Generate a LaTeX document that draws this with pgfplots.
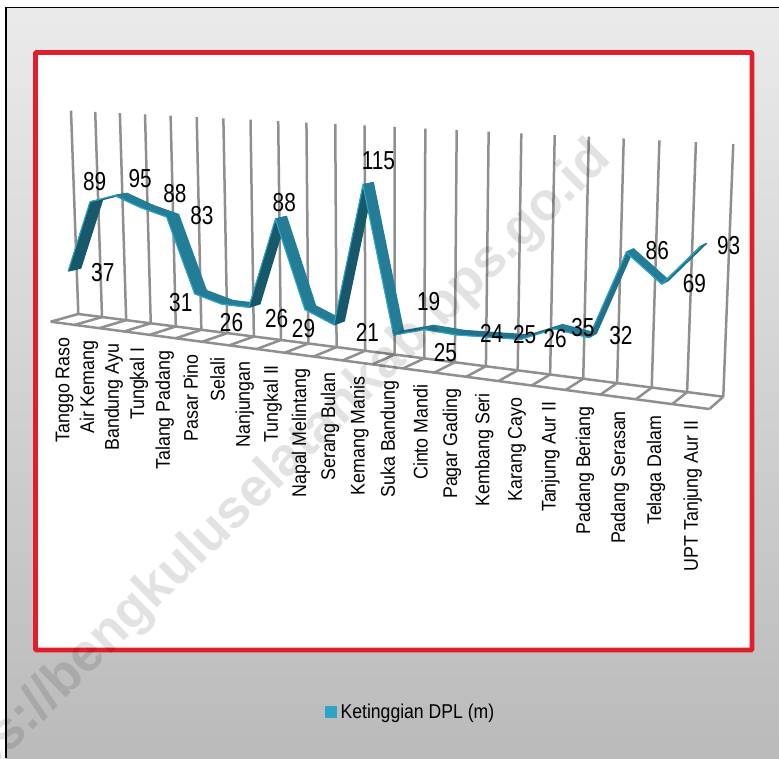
\documentclass[border=0pt]{standalone}
\usepackage{fontspec}
\setmainfont[FakeStretch=0.88]{Liberation Sans}
\newfontfamily\wmfont{Liberation Sans}
\newfontfamily\numfont[FakeStretch=0.8]{Liberation Sans}
\newfontfamily\catfont[FakeStretch=0.9]{Liberation Sans}
\usepackage{pgfplots}
\usepackage{pgfplotstable}
\pgfplotsset{compat=1.18}

\definecolor{griscol}{HTML}{8F8F8F}
\definecolor{ribdark}{HTML}{17596B}
\definecolor{ribmid}{HTML}{237D96}
\definecolor{riblight}{HTML}{2FA4C6}
\definecolor{redframe}{HTML}{E01F2D}

% 3D view of the chart: category i, value v, depth z (0 back wall, 1 front of floor)
\pgfkeys{/pgf/declare function={
  den(\cc,\vv,\zz)=1-0.009024*\cc-0.000153*\vv-0.025*\zz;
  px(\cc,\vv,\zz)=(22.79*\cc-0.0592*\vv+78.3-28.87*\zz)/den(\cc,\vv,\zz);
  py(\cc,\vv,\zz)=(0.1791*\cc-1.3633*\vv+314-0.34*\zz)/den(\cc,\vv,\zz);
}}

% c, value, label offset (dx right, dy up), name
\pgfplotstableread[col sep=comma]{
c,v,dx,dy,name
0,37,28,-3,Tanggo Raso
1,89,-2,19,Air Kemang
2,95,19,16,Bandung Ayu
3,88,28,13,Tungkal I
4,83,29,0,Talang Padang
5,31,-20,-10,Pasar Pino
6,26,4,-20,Selali
7,26,22,-13,Nanjungan
8,88,3,15,Tungkal II
9,29,-7,-21,Napal Melintang
10,21,28,-10,Serang Bulan
11,115,10,23,Kemang Manis
12,19,30,31,Suka Bandung
13,25,16,-25,Cinto Mandi
14,24,31,-1,Pagar Gading
15,25,32,0,Kembang Seri
16,26,30,-1,Karang Cayo
17,35,24,-1,Tanjung Aur II
18,32,28,0,Padang Beriang
19,86,27,0,Padang Serasan
20,69,29,-1,Telaga Dalam
21,93,25,-1,UPT Tanjung Aur II
}\dat

\pgfplotstableread{
v dummy
0 0
151 0
}\walltab
\pgfplotstableread{
i dummy
0 0
22 0
}\floorlong
\pgfplotstableread{
z dummy
0 0
1 0
}\floorcross

\newcommand\ribbonseg[1]{%
  \pgfplotstablegetelem{#1}{v}\of\dat\let\va\pgfplotsretval
  \pgfmathtruncatemacro\nxt{#1+1}%
  \pgfplotstablegetelem{\nxt}{v}\of\dat\let\vb\pgfplotsretval
  \pgfmathsetmacro\ca{#1+0.5}%
  \pgfmathsetmacro\cb{#1+1.5}%
  \pgfmathsetmacro\xa{px(\ca,\va,0.28)}\pgfmathsetmacro\ya{py(\ca,\va,0.28)}%
  \pgfmathsetmacro\xb{px(\cb,\vb,0.28)}\pgfmathsetmacro\yb{py(\cb,\vb,0.28)}%
  \pgfmathsetmacro\xc{px(\cb,\vb,0.72)}\pgfmathsetmacro\yc{py(\cb,\vb,0.72)}%
  \pgfmathsetmacro\xd{px(\ca,\va,0.72)}\pgfmathsetmacro\yd{py(\ca,\va,0.72)}%
  \def\segcol{ribmid}%
  \ifdim\vb pt>\va pt
    \ifnum#1<12 \def\segcol{ribdark}\else\def\segcol{ribmid!70!ribdark}\fi
  \fi
  \edef\tmp{\noexpand\addplot[forget plot,fill=\segcol,draw=\segcol,line width=1.2pt,line join=round]
    coordinates {(\xa,\ya) (\xb,\yb) (\xc,\yc) (\xd,\yd)} -- cycle;}%
  \tmp
}

\begin{document}
\begin{tikzpicture}[x=1pt,y=1pt]
\useasboundingbox (0,0) rectangle (779,758);
\fill[white] (0,0) rectangle (779,758);
\shade[top color=black!8,bottom color=black!27] (6,0) rectangle (779,750);
\draw[black,line width=1.5pt] (6,0) -- (6,750.5) -- (779,750.5);
\draw[redframe,fill=white,line width=4.7pt,rounded corners=1pt] (35.5,108) rectangle (752,705.5);

\begin{axis}[
  at={(0,0)}, anchor=south west,
  scale only axis, width=779pt, height=758pt,
  xmin=0, xmax=779, ymin=0, ymax=758, y dir=reverse,
  hide axis, clip=false,
  legend style={at={(axis cs:325,712)},anchor=west,draw=none,fill=none,
    font=\fontsize{20}{22}\selectfont,inner sep=0pt,
    /tikz/every even column/.append style={column sep=4pt}},
  legend cell align=left,
]
  % floor and wall
  \pgfplotsinvokeforeach{0,...,22}{
    \addplot[forget plot,griscol,line width=2.5pt]
      table[x expr={px(#1,\thisrow{v},0)},y expr={py(#1,\thisrow{v},0)}] {\walltab};
    \addplot[forget plot,griscol,line width=2.5pt]
      table[x expr={px(#1,0,\thisrow{z})},y expr={py(#1,0,\thisrow{z})}] {\floorcross};
  }
  \addplot[forget plot,griscol,line width=2.5pt]
    table[x expr={px(\thisrow{i},0,0)},y expr={py(\thisrow{i},0,0)}] {\floorlong};
  \addplot[forget plot,griscol,line width=2.5pt]
    table[x expr={px(\thisrow{i},0,1)},y expr={py(\thisrow{i},0,1)}] {\floorlong};

  % the series as a ribbon
  \pgfplotsinvokeforeach{0,...,20}{\ribbonseg{#1}}
  \addplot[forget plot,riblight,line width=1.1pt]
    table[x expr={px(\thisrow{c}+0.5,\thisrow{v},0.74)},y expr={py(\thisrow{c}+0.5,\thisrow{v},0.74)}] {\dat};

  % value labels
  \addplot[forget plot,draw=none,mark=none,point meta=explicit symbolic,
    visualization depends on={\thisrow{dx}\as\ldx},
    visualization depends on={\thisrow{dy}\as\ldy},
    nodes near coords={\pgfplotspointmeta},
    nodes near coords style={anchor=center,inner sep=0pt,text=black,
      font=\numfont\fontsize{26}{28}\selectfont,shift={(\ldx pt,\ldy pt)}}]
    table[x expr={px(\thisrow{c}+0.5,\thisrow{v},0.5)},y expr={py(\thisrow{c}+0.5,\thisrow{v},0.5)},meta=v] {\dat};

  % category labels
  \addplot[forget plot,draw=none,mark=none,point meta=explicit symbolic,
    nodes near coords={\pgfplotspointmeta},
    nodes near coords style={shift={(2pt,-14pt)},rotate=90,anchor=east,inner sep=0pt,text=black,
      font=\catfont\fontsize{19.8}{21}\selectfont}]
    table[x expr={px(\thisrow{c}+0.5,0,1)},y expr={py(\thisrow{c}+0.5,0,1)},meta=name] {\dat};

  \addlegendimage{legend image code/.code={\fill[riblight] (0pt,-5.5pt) rectangle (11pt,5.5pt);\path (13pt,0pt);}}
  \addlegendentry{Ketinggian DPL (m)}
\end{axis}

% watermark
\node[rotate=44.5,anchor=east,inner sep=0pt,text=black,text opacity=0.115,
  font=\wmfont\bfseries\fontsize{53.7}{55}\selectfont] at (603,607)
  {https://bengkuluselatankab.bps.go.id};
\end{tikzpicture}
\end{document}
